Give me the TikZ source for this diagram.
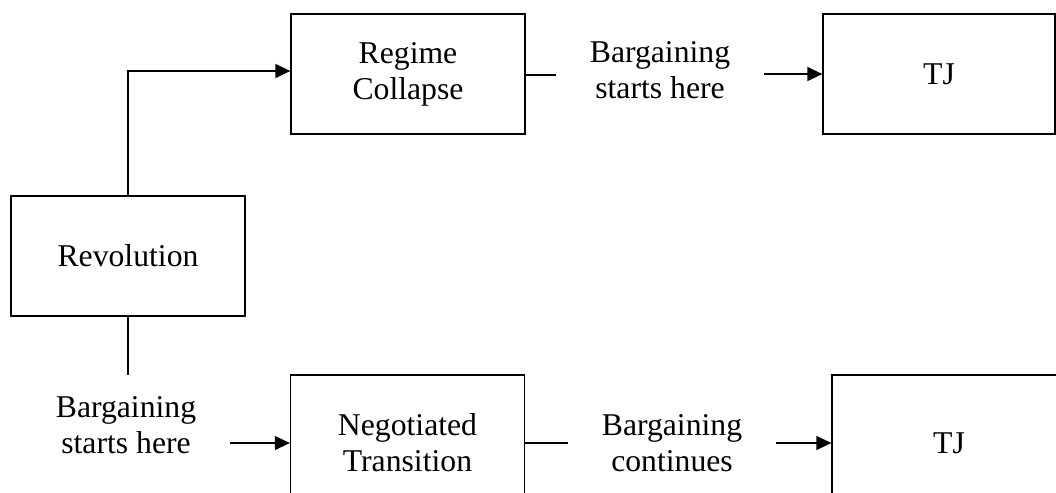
\documentclass[tikz,border=0pt]{standalone}
\usepackage{fontspec}
\setmainfont{Liberation Serif}
\usetikzlibrary{arrows.meta}
\begin{document}
\begin{tikzpicture}[x=0.5pt,y=-0.5pt,
  every node/.style={font=\fontsize{15.85}{18}\selectfont, align=center},
  box/.style={draw, line width=0.65pt, minimum width=117pt, minimum height=60pt, inner sep=0pt},
  lbl/.style={inner xsep=16.75pt, inner ysep=0pt},
  conn/.style={line width=0.65pt},
  arr/.style={conn, -{Triangle[length=7.5pt,width=7pt]}}]
\useasboundingbox (0,0) rectangle (1056,493);
\clip (0,0) rectangle (1056,493);
% boxes
\node[box] (rev) at (128,256) {Revolution};
\node[box] (reg) at (408,74) {Regime\\Collapse};
\node[box, minimum width=116pt] (tj1) at (939,74) {TJ};
\node[box, minimum height=68pt] (neg) at (407.5,443) {Negotiated\\Transition};
\node[box, minimum height=68pt] (tj2) at (949,443) {TJ};
% labels
\node[lbl] (lab0) at (660,70) {Bargaining\\starts here};
\node[lbl] (lab1) at (126,425) {Bargaining\\starts here};
\node[lbl] (lab3) at (672,443.5) {Bargaining\\continues};
\coordinate (c1) at (129,375);
% connectors
\draw[arr] (rev.north) |- ([yshift=1.5pt]reg.west);
\draw[conn] ([yshift=-0.5pt]reg.east) -- ([yshift=-0.5pt]reg.east -| lab0.west);
\draw[arr] (lab0.east |- tj1.west) -- (tj1.west);
\draw[conn] (rev.south) -- (rev.south |- c1);
\draw[arr] (lab1.east |- neg.west) -- (neg.west);
\draw[conn] (neg.east) -- (neg.east -| lab3.west);
\draw[arr] (lab3.east |- tj2.west) -- (tj2.west);
\end{tikzpicture}
\end{document}
